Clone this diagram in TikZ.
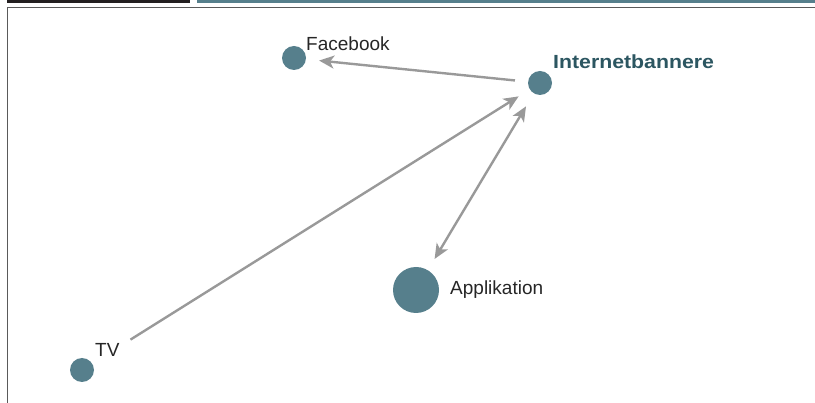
\documentclass[tikz,border=0pt]{standalone}
\usepackage{fontspec}
\setmainfont{Liberation Sans}
\newfontfamily\headfont[FakeStretch=1.12]{Liberation Sans Bold}
\usetikzlibrary{arrows.meta}
\definecolor{dotteal}{HTML}{567F8C}
\definecolor{darkteal}{HTML}{2C5661}
\definecolor{linkgray}{HTML}{999999}
\definecolor{framegray}{HTML}{5A5A5A}
\definecolor{barblack}{HTML}{231F20}
\tikzset{
  dot/.style={shape=circle,fill=dotteal,inner sep=0pt,minimum size=24pt},
  bigdot/.style={dot,minimum size=46pt},
  tag/.style={anchor=west,inner sep=0pt,font=\fontsize{19}{22}\selectfont,text=black!85},
  link/.style={draw=linkgray,line width=2.4pt,shorten >=13pt,shorten <=13pt},
  linktip/.tip={Stealth[length=15pt,width=13pt,inset=4pt]}
}
\begin{document}
\begin{tikzpicture}[x=1pt,y=-1pt]
\useasboundingbox (0,0) rectangle (815,403);
% header bars and frame
\fill[barblack] (7,0) rectangle (190,3.5);
\fill[dotteal] (197,0) rectangle (815,3.5);
\draw[framegray,line width=1.6pt] (7.5,403) -- (7.5,7.5) -- (815,7.5);
% nodes
\node[dot] (fb) at (294,58) {};
\node[dot] (ib) at (540,83) {};
\node[bigdot] (app) at (416,290) {};
\node[dot] (tv) at (82,370) {};
\node[tag] (fbname) at (306,44) {Facebook};
\node[tag,text=darkteal,font=\fontsize{19}{22}\headfont] (ibname) at (553,62) {Internetbannere};
\node[tag] (appname) at (450,290) {Applikation};
\node[tag] (tvname) at (95,350) {TV};
% links
\draw[link,-linktip] (ib) -- (fb);
\draw[link,-linktip,shorten <=45pt] (tv) -- (ib);
\draw[link,linktip-linktip,shorten >=15pt] (app) -- (ib);
\end{tikzpicture}
\end{document}
